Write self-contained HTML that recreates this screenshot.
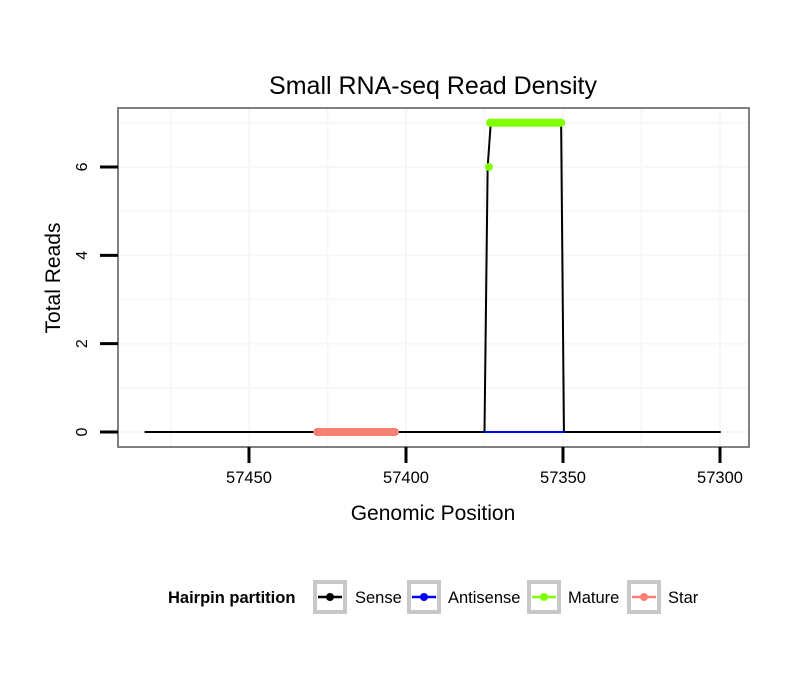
<!DOCTYPE html>
<html><head><meta charset="utf-8"><style>body{margin:0;background:#fff}svg{display:block;font-family:"Liberation Sans",sans-serif}</style></head>
<body>
<svg id="chart" width="810" height="690"></svg>
<script>
const positions=[57483,57375,57374,57373,57350.6,57349.7,57300];
const senseVals=[0,0,6,7,7,0,0];
const antisenseX=[57375,57349.7];
const antisenseVals=[0,0];
const matureX=[57373.6,57373.2,57350.6];
const matureVals=[6,7,7];
const starX=[57428.3,57403.5];
const starVals=[0,0];
const xTicks=[57450,57400,57350,57300];
const yTicks=[0,2,4,6];
const legendLabels=["Sense","Antisense","Mature","Star"];
const legendColors=["#000000","#0000ff","#7fff00","#fa8072"];

const NS="http://www.w3.org/2000/svg";
const svg=document.getElementById('chart');
const L=118,R=749,T=108,B=447;
const xs=v=>249+(57450-v)*3.14;
const ys=v=>432-v*44.17;
function mk(tag,attrs,parent){const e=document.createElementNS(NS,tag);for(const k in attrs)e.setAttribute(k,attrs[k]);(parent||svg).appendChild(e);return e;}
let e;
e=mk('rect',{x:L,y:T,width:R-L,height:B-T,fill:'#fff'});


for(let v=0;v<=7;v++){e=mk('line',{x1:L,x2:R,y1:ys(v),y2:ys(v),stroke:'#f7f7f7','stroke-width':2});

}
for(let v=57475;v>=57300;v-=25){e=mk('line',{x1:xs(v),x2:xs(v),y1:T,y2:B,stroke:'#f7f7f7','stroke-width':2});

}
function line(xa,ya,col,w,name){e=mk('polyline',{points:xa.map((x,i)=>xs(x)+','+ys(ya[i])).join(' '),fill:'none',stroke:col,'stroke-width':w,'stroke-linecap':'round','stroke-linejoin':'round'});

}
line(positions,senseVals,'#000',2,'sense-line');
line(antisenseX,antisenseVals,'#0000ff',2,'antisense-line');
line(matureX.slice(1),matureVals.slice(1),'#7fff00',8,'mature-segment');
line(starX,starVals,'#fa8072',8,'star-segment');
matureX.forEach((x,i)=>{e=mk('circle',{cx:xs(x),cy:ys(matureVals[i]),r:4,fill:'#7fff00'});

});
e=mk('rect',{x:L,y:T,width:R-L,height:B-T,fill:'none',stroke:'#808080','stroke-width':2});


xTicks.forEach(v=>{e=mk('line',{x1:xs(v),x2:xs(v),y1:B,y2:B+16,stroke:'#000','stroke-width':3});


e=mk('text',{x:xs(v),y:B+36,'text-anchor':'middle','font-size':16.5});e.textContent=v;

});
yTicks.forEach(v=>{e=mk('line',{x1:L-18,x2:L,y1:ys(v),y2:ys(v),stroke:'#000','stroke-width':3});


e=mk('text',{x:0,y:0,'text-anchor':'middle','font-size':16,transform:`translate(87,${ys(v)}) rotate(-90)`});e.textContent=v;

});
e=mk('text',{x:433,y:94,'text-anchor':'middle','font-size':25});e.textContent='Small RNA-seq Read Density';


e=mk('text',{x:433,y:520,'text-anchor':'middle','font-size':21});e.textContent='Genomic Position';


e=mk('text',{x:0,y:0,'text-anchor':'middle','font-size':21,transform:'translate(60,278) rotate(-90)'});e.textContent='Total Reads';


e=mk('text',{x:168,y:603,'font-size':16.5,'font-weight':'bold'});e.textContent='Hairpin partition';


const keyX=[313,407,527,627],textX=[355,448,568,668];
legendLabels.forEach((lab,i)=>{
const g=mk('g',{});


mk('rect',{x:keyX[i]+2,y:582,width:30,height:30,fill:'#fff',stroke:'#c8c8c8','stroke-width':4},g);
mk('line',{x1:keyX[i]+5,x2:keyX[i]+29,y1:597,y2:597,stroke:legendColors[i],'stroke-width':2.5},g);
mk('circle',{cx:keyX[i]+17,cy:597,r:4,fill:legendColors[i]},g);
const t=mk('text',{x:textX[i],y:603,'font-size':16.5},g);t.textContent=lab;});
</script>
</body></html>
